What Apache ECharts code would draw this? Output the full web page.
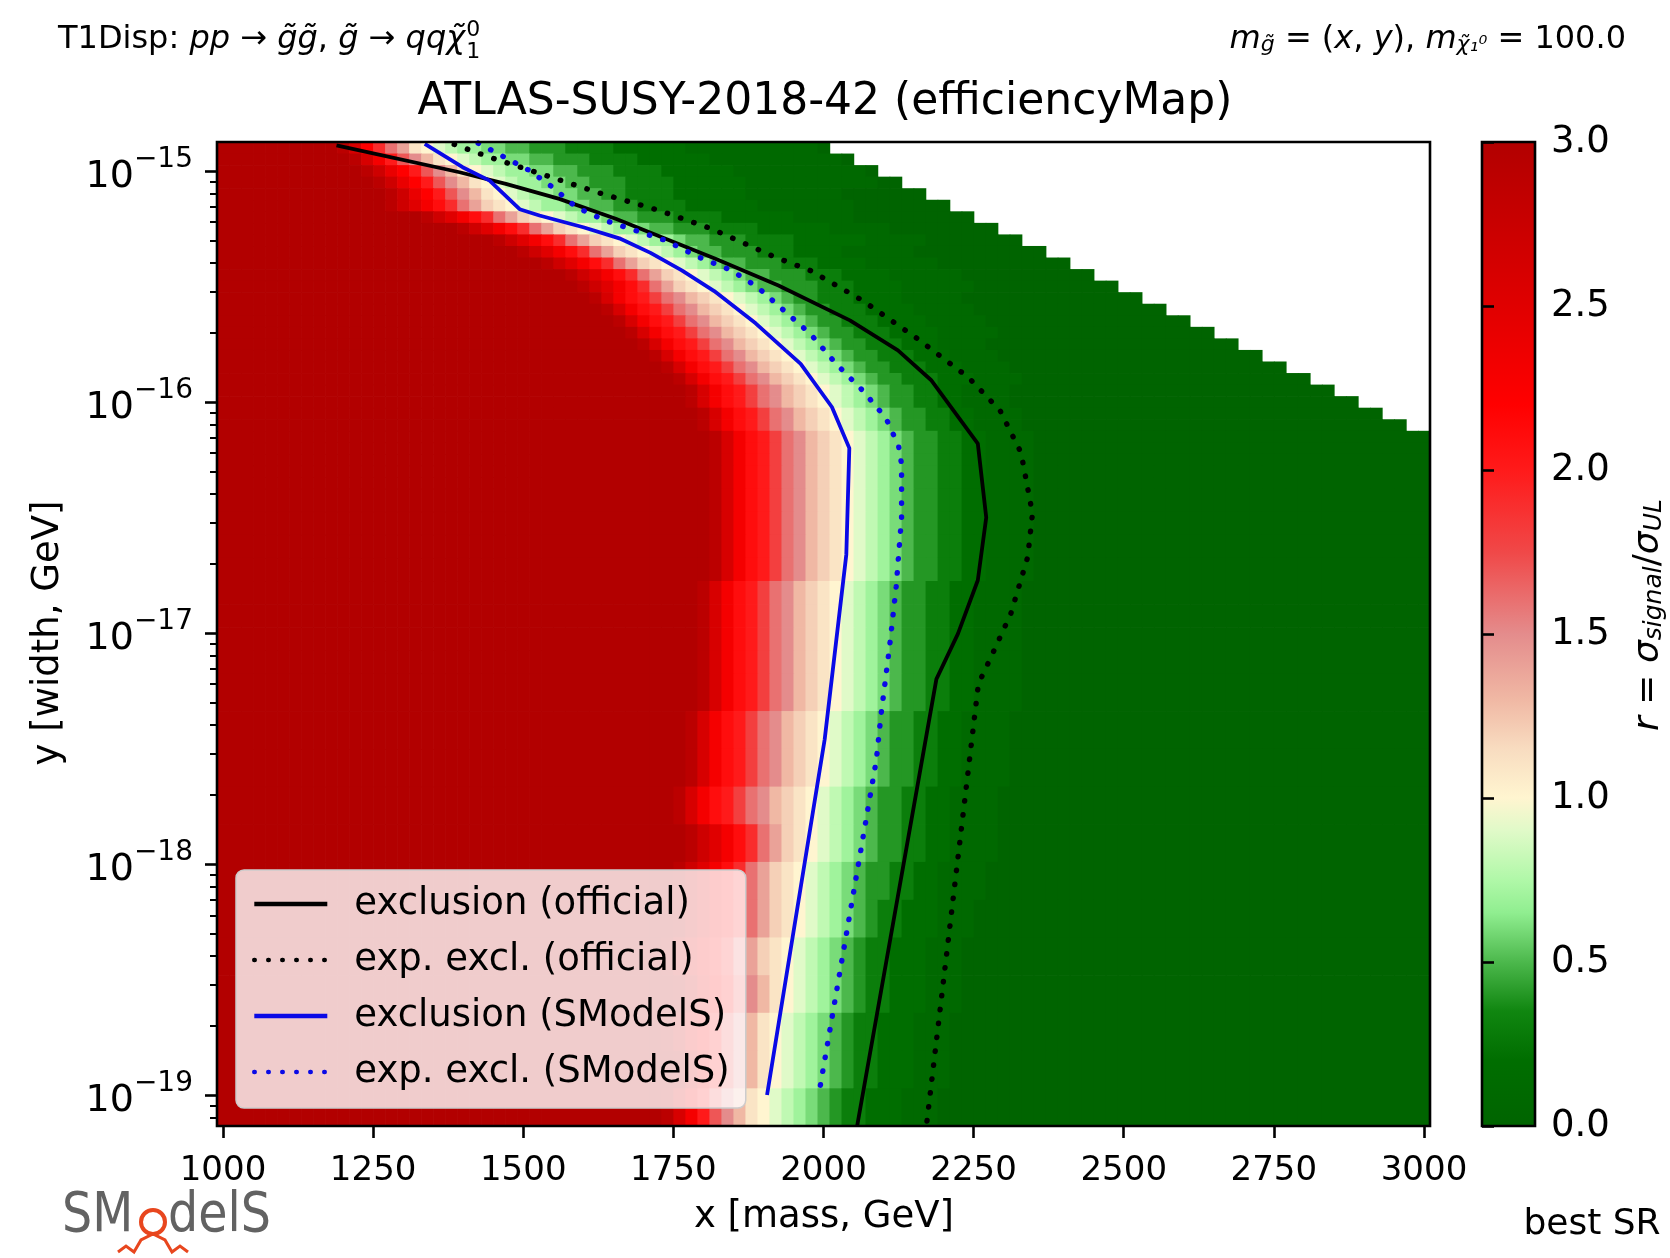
<!DOCTYPE html>
<html><head><meta charset="utf-8"><title>ATLAS-SUSY-2018-42 (efficiencyMap)</title>
<script src="https://cdn.jsdelivr.net/npm/echarts@6.0.0/dist/echarts.min.js"></script>
<style>html,body{margin:0;padding:0;background:#fff;}#chart{width:1670px;height:1258px;}</style>
</head><body><div id="chart"></div>
<script>
// ================= DATA =================
const xTicks = [1000, 1250, 1500, 1750, 2000, 2250, 2500, 2750, 3000];
const yDecades = [-19, -18, -17, -16, -15];          // log10(width) of major ticks
const cbTicks = [0, 0.5, 1, 1.5, 2, 2.5, 3];
const xMin = 990, xMax = 3010, yMin = -19.134, yMax = -14.875;
const firstCell = 1000, cellWidth = 20;

// heatmap rows (log10 width edges, top -> bottom)
const rowEdges = [-14.875,-14.925,-14.975,-15.025,-15.075,-15.125,-15.175,-15.225,-15.275,-15.325,-15.375,
  -15.425,-15.475,-15.525,-15.575,-15.625,-15.675,-15.725,-15.775,-15.825,-15.875,-15.925,-15.975,-16.025,
  -16.075,-16.125,-16.175,-16.225,-16.275,-16.325,-16.375,
  -16.475,-16.575,-16.675,-16.775,-16.875,-16.975,-17.075,-17.175,
  -17.338,-17.502,-17.665,-17.828,-17.991,-18.155,-18.318,-18.481,-18.644,-18.808,-18.971,-19.134];
// r value code per cell: char index / 10  ('0' = 0.0 ... 'A' = 1.0 ... 'K' = 2.0 ... 'U' = 3.0)
const rowProfiles = [
  "TQMJGEBA98776655444333322222211111111111",
  "TQNKHFDBA98776655444333322222211111111111",
  "TROMKHFDBA98776655444333322222211111111111",
  "TROMKHFDBA9877665544333322222211111111",
  "TRPNLJGECBA9877665544333322222211111111",
  "TRPNLJGECBA9877655444333322222211111",
  "TRPNLJGECBA9876554443332222111111",
  "TQNLKIGFDCBA9876544333222211111",
  "TQNLKIGFDCBA98765443332221111",
  "TQNLKIGFDCBA987654433221111",
  "TRPNLJGECBA987654433221111",
  "TRPNLJGECBA98765433222111",
  "TROMKHFDBA98765433222111",
  "TQNKHFDBA98765433222111"
];
const rowProfile = [0,1,2,2,3,4,5,5,5,6,6,6,6,7,7,7,7,8,8,8,8,9,9,9,9,9,9,9,9,9,
  9,9,9,9,9,9,9,9,
  9,9,9,9,10,10,11,11,12,12,13,13];
const rowLead = [10,11,12,13,14,14,17,20,23,25,27,29,30,31,32,33,34,35,36,37,38,39,39,40,40,41,41,41,41,41,
  41,41,41,41,40,40,40,40,
  40,39,39,38,39,38,38,37,38,37,38,37];
const rowLast = [50,52,54,56,58,60,62,64,66,68,70,72,74,76,78,80,82,84,86,88,90,92,94,96,98,100,100,100,100,100,
  100,100,100,100,100,100,100,100,
  100,100,100,100,100,100,100,100,100,100,100,100];

// contour lines: mass [GeV] and log10(width [GeV])
const obsOffX = [1189,1394,1471,1560,1654,1737,1820,1925,2044,2124,2179,2257,2271,2257,2224,2188,2056];
const obsOffY = [-14.89,-15.006,-15.056,-15.121,-15.207,-15.294,-15.38,-15.496,-15.647,-15.777,-15.905,-16.181,-16.5,-16.772,-17.003,-17.2,-19.134];
const expOffX = [1385,1444,1538,1626,1726,1814,1919,1978,2065,2153,2241,2294,2329,2348,2340,2312,2279,2258,2172];
const expOffY = [-14.885,-14.941,-15.02,-15.095,-15.171,-15.251,-15.373,-15.431,-15.561,-15.72,-15.893,-16.037,-16.22,-16.484,-16.672,-16.916,-17.104,-17.22,-19.12];
const obsSmX = [1336,1399,1444,1494,1527,1600,1660,1712,1764,1818,1887,1962,2014,2043,2038,2002,1906];
const obsSmY = [-14.883,-14.984,-15.042,-15.166,-15.193,-15.244,-15.292,-15.355,-15.431,-15.52,-15.66,-15.835,-16.022,-16.2,-16.66,-17.46,-19.0];
const expSmX = [1425,1510,1549,1588,1637,1737,1792,1847,1890,1934,1978,2021,2065,2104,2125,2130,2130,2121,2110,2096,2088,1992];
const expSmY = [-14.88,-14.998,-15.071,-15.157,-15.215,-15.301,-15.373,-15.431,-15.503,-15.604,-15.705,-15.835,-15.95,-16.07,-16.19,-16.27,-16.5,-16.8,-17.06,-17.35,-17.55,-19.0];

// ================= STYLE =================
const FONT = '"DejaVu Sans", Verdana, sans-serif';
const cmapStops = [[0,'#006400'],[0.2,'#006e00'],[0.35,'#108610'],[0.5,'#4cb84c'],[0.65,'#90ee90'],[0.75,'#b0f8a8'],
  [0.9,'#e0fac8'],[1.0,'#fff5d0'],[1.15,'#f8dcc0'],[1.3,'#f0b8a4'],[1.5,'#e48c8c'],[1.75,'#f04848'],
  [2.0,'#ff1a1a'],[2.2,'#ff0000'],[2.5,'#e00000'],[3.0,'#b20000']];
function hex(c){return [parseInt(c.slice(1,3),16),parseInt(c.slice(3,5),16),parseInt(c.slice(5,7),16)];}
function cmap(v){
  v = Math.max(0, Math.min(3, v));
  for (let i = 1; i < cmapStops.length; i++) {
    if (v <= cmapStops[i][0]) {
      const a = cmapStops[i-1], b = cmapStops[i];
      const t = (v - a[0]) / (b[0] - a[0]);
      const ca = hex(a[1]), cb = hex(b[1]);
      return 'rgb(' + ca.map((x,k)=>Math.round(x + (cb[k]-x)*t)).join(',') + ')';
    }
  }
  return cmapStops[cmapStops.length-1][1];
}

// decode heatmap rows into cells [xCenter, yTop, yBottom, r]
const ALPHA = '0123456789ABCDEFGHIJKLMNOPQRSTU';
const cells = [];
for (let r = 0; r < rowLead.length; r++) {
  const prof = rowProfiles[rowProfile[r]];
  for (let c = 0; c <= rowLast[r]; c++) {
    let ch;
    if (c < rowLead[r]) ch = 'U';
    else { const k = c - rowLead[r]; ch = k < prof.length ? prof[k] : '0'; }
    cells.push([firstCell + c * cellWidth, rowEdges[r], rowEdges[r+1], ALPHA.indexOf(ch) / 10]);
  }
}
const yMinor = [];
for (let d = -20; d <= -15; d++) for (let k = 2; k <= 9; k++) {
  const v = d + Math.log10(k); if (v > yMin && v < yMax) yMinor.push(v);
}

function zip(xs, ys){ return xs.map((x,i)=>[x, ys[i]]); }
function lineSeries(name, xs, ys, color, dotted){
  return {type:'line', name, xAxisIndex:0, yAxisIndex:0, data: zip(xs, ys), showSymbol:false, symbol:'none',
    clip:true, z:5, silent:true, animation:false, itemStyle:{color, opacity:0},
    lineStyle:{color, width: dotted ? 5.4 : 3.8, type: dotted ? [0.4, 13.6] : 'solid', cap: dotted ? 'round' : 'butt', join:'round'}};
}

const chart = echarts.init(document.getElementById('chart'), null, {renderer:'canvas'});

// text width measurement for stacked super/subscript
const mctx = document.createElement('canvas').getContext('2d');
function tw(t, size, italic){ mctx.font = (italic ? 'italic ' : '') + size + 'px ' + FONT; return mctx.measureText(t).width; }
const TL = 32;
const tlParts = [['T1Disp: ',0],['pp',1],[' \u2192 ',0],['g\u0303g\u0303',1],[', ',0],['g\u0303',1],[' \u2192 ',0],['qq\u03c7\u0303',1]];
const tlWidth = tlParts.reduce((s,p)=>s + tw(p[0], TL, p[1]), 0);
const tlText = tlParts.map(p => (p[1] ? '{i|' : '{n|') + p[0] + '}').join('');

const baseRich = (size) => ({
  n:{fontSize:size, fontFamily:FONT, color:'#000'},
  i:{fontSize:size, fontFamily:FONT, fontStyle:'italic', color:'#000'},
  s:{fontSize:Math.round(size*0.7), fontFamily:FONT, fontStyle:'italic', color:'#000', lineHeight:Math.round(size*0.9), verticalAlign:'bottom'}
});

const option = {
  animation:false,
  backgroundColor:'#ffffff',
  textStyle:{fontFamily:FONT},
  grid:[
    {left:217, top:142, width:1213, height:984, show:false, outerBoundsMode:'none', containLabel:false},
    {left:1482, top:142, width:53, height:984, show:false, outerBoundsMode:'none', containLabel:false}
  ],
  xAxis:[
    {gridIndex:0, type:'value', min:xMin, max:xMax, z:10,
      axisLine:{show:false}, splitLine:{show:false},
      axisTick:{show:true, customValues:xTicks, length:12, lineStyle:{color:'#000', width:2.6}},
      axisLabel:{show:true, customValues:xTicks, formatter:(v)=>String(Math.round(v)), fontSize:34, color:'#000', fontFamily:FONT, margin:28}},
    {gridIndex:1, type:'value', min:0, max:1, show:false}
  ],
  yAxis:[
    {gridIndex:0, type:'value', min:yMin, max:yMax, z:10,
      axisLine:{show:false}, splitLine:{show:false},
      axisTick:{show:true, customValues:yDecades, length:12, lineStyle:{color:'#000', width:2.6}},
      axisLabel:{show:true, customValues:yDecades, margin:24,
        formatter:(v)=>'{b|10}{s|\u2212' + Math.round(-v) + '}',
        rich:{b:{fontSize:38, fontFamily:FONT, color:'#000', lineHeight:50, verticalAlign:'bottom'},
              s:{fontSize:28, fontFamily:FONT, color:'#000', lineHeight:30, verticalAlign:'top'}}}},
    {gridIndex:0, type:'value', position:'left', min:yMin, max:yMax, z:10,
      axisLine:{show:false}, splitLine:{show:false},
      axisTick:{show:true, customValues:yMinor, length:7, lineStyle:{color:'#000', width:2}},
      axisLabel:{show:false}},
    {gridIndex:1, type:'value', position:'right', min:0, max:3, interval:0.5, z:10,
      axisLine:{show:false}, splitLine:{show:false},
      axisTick:{show:true, length:12, lineStyle:{color:'#000', width:2.6}},
      axisLabel:{show:true, formatter:(v)=>v.toFixed(1), fontSize:37, color:'#000', fontFamily:FONT, margin:16}}
  ],
  legend:{
    show:true, orient:'vertical', left:236, top:870, padding:[14,16,16,16], itemGap:16,
    itemWidth:73, itemHeight:20, backgroundColor:'rgba(255,255,255,0.8)', borderColor:'#cccccc',
    borderWidth:1.5, borderRadius:8,
    itemStyle:{opacity:0},
    lineStyle:{width:4.6},
    textStyle:{fontSize:37, fontFamily:FONT, color:'#000', lineHeight:40, padding:[0,0,0,22]},
    data:['exclusion (official)','exp. excl. (official)','exclusion (SModelS)','exp. excl. (SModelS)']
  },
  series:[
    {type:'custom', name:'r', xAxisIndex:0, yAxisIndex:0, data:cells, clip:true, z:1, silent:true,
      encode:{x:0, y:[1,2]},
      renderItem:function(params, api){
        const x = api.value(0), y0 = api.value(1), y1 = api.value(2), v = api.value(3);
        const p0 = api.coord([x - cellWidth/2, y0]);
        const p1 = api.coord([x + cellWidth/2, y1]);
        return {type:'rect', shape:{x:p0[0], y:p0[1], width:p1[0]-p0[0]+0.7, height:p1[1]-p0[1]+0.7},
          style:{fill:cmap(v)}};
      }},
    lineSeries('exclusion (official)', obsOffX, obsOffY, '#000000', false),
    lineSeries('exp. excl. (official)', expOffX, expOffY, '#000000', true),
    lineSeries('exclusion (SModelS)', obsSmX, obsSmY, '#0a0ae6', false),
    lineSeries('exp. excl. (SModelS)', expSmX, expSmY, '#0a0ae6', true),
    {type:'custom', xAxisIndex:0, yAxisIndex:0, data:[[xMin, yMin, xMax, yMax]], clip:false, z:20, silent:true,
      renderItem:function(params, api){
        const a = api.coord([api.value(0), api.value(3)]), b = api.coord([api.value(2), api.value(1)]);
        return {type:'rect', shape:{x:a[0], y:a[1], width:b[0]-a[0], height:b[1]-a[1]},
          style:{fill:'none', stroke:'#000', lineWidth:2.6}};
      }},
    {type:'custom', xAxisIndex:1, yAxisIndex:2, data:[[0, cbTicks[0], 1, cbTicks[cbTicks.length-1]]], clip:false, z:1, silent:true,
      renderItem:function(params, api){
        const a = api.coord([api.value(0), api.value(3)]), b = api.coord([api.value(2), api.value(1)]);
        const top = api.value(3);
        return {type:'group', children:[
          {type:'rect', shape:{x:a[0], y:a[1], width:b[0]-a[0], height:b[1]-a[1]},
            style:{fill:new echarts.graphic.LinearGradient(0,1,0,0, cmapStops.map(s=>({offset:s[0]/top, color:s[1]})))}},
          {type:'rect', shape:{x:a[0], y:a[1], width:b[0]-a[0], height:b[1]-a[1]},
            style:{fill:'none', stroke:'#000', lineWidth:2.6}}
        ]};
      }}
  ],
  graphic:[
    {type:'text', x:825, y:103, silent:true, style:{text:'ATLAS-SUSY-2018-42 (efficiencyMap)', fontSize:44, fontFamily:FONT, fill:'#000', align:'center', verticalAlign:'middle', textAlign:'center', textVerticalAlign:'middle'}},
    {type:'text', x:824, y:1217, silent:true, style:{text:'x [mass, GeV]', fontSize:37, fontFamily:FONT, fill:'#000', align:'center', verticalAlign:'middle', textAlign:'center', textVerticalAlign:'middle'}},
    {type:'text', x:48, y:633, rotation:Math.PI/2, silent:true, style:{text:'y [width, GeV]', fontSize:37, fontFamily:FONT, fill:'#000', align:'center', verticalAlign:'middle', textAlign:'center', textVerticalAlign:'middle'}},
    {type:'text', x:58, y:40, silent:true, style:{text:tlText, rich:baseRich(TL), fontSize:TL, fontFamily:FONT, fill:'#000', align:'left', verticalAlign:'middle', textAlign:'left', textVerticalAlign:'middle'}},
    {type:'text', x:58 + tlWidth + 1, y:30, silent:true, style:{text:'0', fontSize:22, fontFamily:FONT, fill:'#000', align:'left', verticalAlign:'middle'}},
    {type:'text', x:58 + tlWidth + 1, y:52, silent:true, style:{text:'1', fontSize:22, fontFamily:FONT, fill:'#000', align:'left', verticalAlign:'middle'}},
    {type:'text', x:1626, y:40, silent:true, style:{text:'{i|m}{s|g\u0303}{n| = (}{i|x}{n|, }{i|y}{n|), }{i|m}{s|\u03c7\u0303\u2081\u2070}{n| = 100.0}', rich:baseRich(32), fontSize:32, fontFamily:FONT, fill:'#000', align:'right', verticalAlign:'middle', textAlign:'right', textVerticalAlign:'middle'}},
    {type:'text', x:1649, y:615, rotation:Math.PI/2, silent:true, style:{text:'{i|r}{n| = }{i|\u03c3}{s|signal}{n|/}{i|\u03c3}{s|UL}', rich:baseRich(36), fontSize:36, fontFamily:FONT, fill:'#000', align:'center', verticalAlign:'middle', textAlign:'center', textVerticalAlign:'middle'}},
    {type:'text', x:1592, y:1225, silent:true, style:{text:'best SR', fontSize:36, fontFamily:FONT, fill:'#000', align:'center', verticalAlign:'middle', textAlign:'center', textVerticalAlign:'middle'}},
    {type:'text', x:62, y:1216, scaleX:0.85, silent:true, style:{text:'SM', fontSize:56, fontFamily:FONT, fill:'#626262', align:'left', verticalAlign:'middle'}},
    {type:'circle', shape:{cx:153, cy:1222, r:12}, silent:true, style:{fill:'none', stroke:'#e8461e', lineWidth:4}},
    {type:'text', x:168, y:1216, scaleX:0.85, silent:true, style:{text:'delS', fontSize:56, fontFamily:FONT, fill:'#626262', align:'left', verticalAlign:'middle'}},
    {type:'polyline', silent:true, shape:{points:[[118,1252],[126,1246],[134,1252],[141,1240],[153,1234],[165,1240],[172,1252],[180,1246],[188,1252]]}, style:{fill:'none', stroke:'#e8461e', lineWidth:3}}
  ]
};
chart.setOption(option);
</script></body></html>
